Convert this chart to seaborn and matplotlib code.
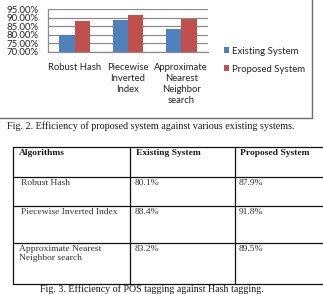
import matplotlib
matplotlib.use("Agg")
import matplotlib.pyplot as plt
import seaborn as sns
import pandas as pd

categories = ["Robust Hash", "Piecewise Inverted Index", "Approximate Nearest Neighbor search"]
cat_labels = ["Robust Hash", "Piecewise\nInverted\nIndex", "Approximate\nNearest\nNeighbor\nsearch"]
series = ["Existing System", "Proposed System"]
existing = [80.1, 88.4, 83.2]
proposed = [87.9, 91.8, 89.5]
yticks = [70, 75, 80, 85, 90, 95]
table_header = ["Algorithms", "Existing System", "Proposed System"]
row_labels = ["Robust Hash", "Piecewise Inverted Index", "Approximate Nearest\nNeighbor search"]
existing_txt = ["80.1%", "88.4%", "83.2%"]
proposed_txt = ["87.9%", "91.8%", "89.5%"]
caption2 = "Fig. 2. Efficiency of proposed system against various existing systems."
caption3 = "Fig. 3. Efficiency of POS tagging against Hash tagging."

W, H = 323, 294
sns.set_theme(style="white")
plt.rcParams['font.family'] = ['Lato', 'DejaVu Sans']

fig = plt.figure(figsize=(W / 100, H / 100), dpi=100)


def fx(x):
    return x / W


def fy(y):
    return 1 - y / H


# overlay axes in pixel coordinates (for frame, captions and table)
ov = fig.add_axes([0, 0, 1, 1])
ov.set_xlim(0, W)
ov.set_ylim(H, 0)
ov.axis('off')

# chart
ax = fig.add_axes([fx(48), fy(51.7), fx(208) - fx(48), fy(9.3) - fy(51.7)])
ax.patch.set_alpha(0)
df = pd.DataFrame({
    "Algorithm": categories * 2,
    "System": [series[0]] * len(categories) + [series[1]] * len(categories),
    "Efficiency": existing + proposed,
})
sns.barplot(data=df, x="Algorithm", y="Efficiency", hue="System", order=categories,
            hue_order=series, palette=["#4F81BD", "#C0504D"], width=0.57,
            saturation=1, ax=ax, errorbar=None, linewidth=0)
ax.set_ylim(70, 95)
ax.set_xlim(-0.5, len(categories) - 0.5)
ax.set_yticks(yticks)
ax.set_yticklabels([f"{v:.2f}%" for v in yticks], fontsize=6.9, color="#222")
ax.yaxis.grid(True, color="#8c8c8c", lw=0.9)
ax.set_axisbelow(True)
ax.set_xticks(range(len(categories)))
ax.set_xticklabels(cat_labels, fontsize=6.8, color="#222", linespacing=1.3, va="top")
ax.set_xticks([i - 0.5 for i in range(len(categories) + 1)], minor=True)
ax.tick_params(axis='x', which='major', length=0, pad=8)
ax.tick_params(axis='x', which='minor', length=3.5, color="#8c8c8c", width=0.9, direction='out')
ax.tick_params(axis='y', length=0, pad=7)
ax.set_xlabel("")
ax.set_ylabel("")
for s in ["top", "right"]:
    ax.spines[s].set_visible(False)
for s in ["left", "bottom"]:
    ax.spines[s].set_color("#8c8c8c")
    ax.spines[s].set_linewidth(0.9)

handles, labels = ax.get_legend_handles_labels()
ax.legend(handles, labels, loc='upper left', bbox_to_anchor=(fx(223.5), fy(46.5)),
          bbox_transform=fig.transFigure, frameon=False, fontsize=6.9,
          handlelength=0.55, handleheight=0.55, handletextpad=0.35,
          labelspacing=0.95, borderpad=0, borderaxespad=0, labelcolor="#222")

# chart frame
ov.plot([-5, 311.5, 311.5], [117.5, 117.5, -5], color="#6e6e6e", lw=1.0, clip_on=False)

serif = ['Liberation Serif', 'DejaVu Serif']
ov.text(7, 126, caption2, family=serif, fontsize=7.25, va='center', ha='left', color="#1a1a1a")

# table
hl = [147, 177, 206, 243, 283.5]
vl = [13, 130, 234.5]
for y in hl:
    ov.plot([13, W + 5], [y, y], color="#111", lw=0.9, clip_on=False)
for x in vl:
    ov.plot([x, x], [hl[0], hl[-1]], color="#111", lw=0.9, clip_on=False)

for x, t in zip([19, 136, 240], table_header):
    ov.text(x, 149, t, family=serif, fontsize=6.8, weight='bold', va='top', ha='left', color="#1a1a1a")

row_x = [21, 21, 19]
for i, (lab, e, p) in enumerate(zip(row_labels, existing_txt, proposed_txt)):
    ytop = hl[i + 1] + 2
    ov.text(row_x[i], ytop, lab, family=serif, fontsize=6.8, va='top', ha='left',
            color="#333", linespacing=1.25)
    ov.text(135, ytop, e, family=serif, fontsize=6.8, va='top', ha='left', color="#333")
    ov.text(239, ytop, p, family=serif, fontsize=6.8, va='top', ha='left', color="#333")

ov.text(40, 289.5, caption3, family=serif, fontsize=7.2, va='center', ha='left', color="#1a1a1a")

fig.savefig("out.png", dpi=100)
